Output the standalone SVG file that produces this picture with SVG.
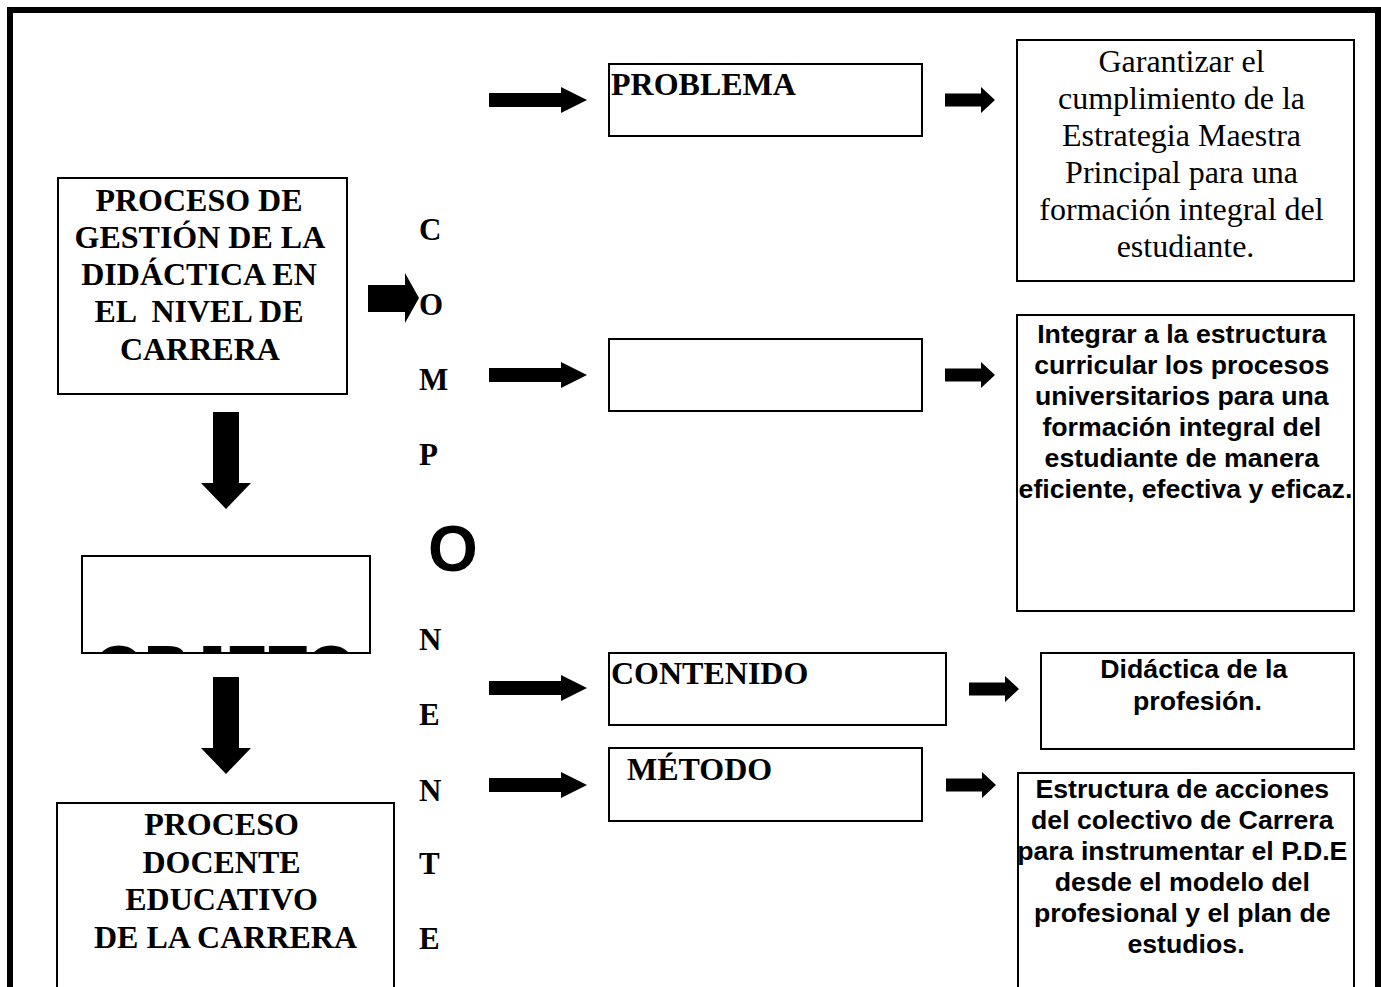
<svg xmlns="http://www.w3.org/2000/svg" width="1381" height="987" viewBox="0 0 1381 987">
<style>
.box{fill:#fff;stroke:#000;stroke-width:2}
.tb{font-family:"Liberation Serif","Times New Roman",serif;font-weight:bold;font-size:32px;fill:#000}
.tr{font-family:"Liberation Serif","Times New Roman",serif;font-size:32px;fill:#000}
.sb{font-family:"Liberation Sans",Arial,sans-serif;font-weight:bold;font-size:26.7px;fill:#000}
.big{font-family:"Liberation Sans",Arial,sans-serif;font-weight:bold;font-size:64px;fill:#000}
.let{font-family:"Liberation Serif","Times New Roman",serif;font-weight:bold;font-size:31px;fill:#000}
.arr{fill:#000;stroke:none}
</style>
<defs>
<path id="bigR" d="M0,-7 H72 V-13 L98,0 L72,13 V7 H0 Z"/>
<path id="smR" d="M0,-6.5 H36 V-13 L50,0 L36,13 V6.5 H0 Z"/>
<path id="down" d="M-13,0 V71 H-25 L0,97 L25,71 H13 V0 Z"/>
<clipPath id="objClip"><rect x="82" y="556" width="288" height="97"/></clipPath>
</defs>
<rect x="0" y="0" width="1381" height="987" fill="#fff"/>
<rect x="10" y="10" width="1368" height="1010" fill="none" stroke="#000" stroke-width="6"/>

<g id="connectors" class="arr">
<path d="M368,285 H405 V273 L419,298 L405,323 V312 H368 Z"/>
<use href="#down" x="226" y="412"/>
<use href="#down" x="226" y="677"/>
<use href="#bigR" x="489" y="100"/>
<use href="#bigR" x="489" y="375"/>
<use href="#bigR" x="489" y="688"/>
<use href="#bigR" x="489" y="785"/>
<use href="#smR" x="945" y="100"/>
<use href="#smR" x="945" y="375"/>
<use href="#smR" x="969" y="689"/>
<use href="#smR" x="946" y="785"/>
</g>

<g id="gestion">
<rect class="box" x="58" y="178" width="289" height="216"/>
<text class="tb" text-anchor="middle" style="white-space:pre">
<tspan x="203" y="211">PROCESO DE</tspan>
<tspan x="203" y="248">GESTIÓN DE LA</tspan>
<tspan x="203" y="285">DIDÁCTICA EN</tspan>
<tspan x="203" y="322">EL  NIVEL DE</tspan>
<tspan x="203" y="360">CARRERA</tspan>
</text>
</g>

<g id="objeto">
<rect class="box" x="82" y="556" width="288" height="97"/>
<text class="big" x="225" y="691" text-anchor="middle" clip-path="url(#objClip)">OBJETO</text>
<rect x="82" y="556" width="288" height="97" fill="none" stroke="#000" stroke-width="2"/>
</g>

<g id="proceso-docente">
<rect class="box" x="57" y="803" width="337" height="220"/>
<text class="tb" text-anchor="middle">
<tspan x="225.5" y="835">PROCESO</tspan>
<tspan x="225.5" y="873">DOCENTE</tspan>
<tspan x="225.5" y="910">EDUCATIVO</tspan>
<tspan x="225.5" y="948">DE LA CARRERA</tspan>
</text>
</g>

<g id="componente">
<text class="let" x="419" y="240">C</text>
<text class="let" x="419" y="315">O</text>
<text class="let" x="419" y="390">M</text>
<text class="let" x="419" y="465">P</text>
<text class="big" x="428" y="571">O</text>
<text class="let" x="419" y="650">N</text>
<text class="let" x="419" y="725">E</text>
<text class="let" x="419" y="801">N</text>
<text class="let" x="419" y="874">T</text>
<text class="let" x="419" y="949">E</text>
</g>

<g id="problema">
<rect class="box" x="609" y="64" width="313" height="72"/>
<text class="tb" x="611" y="95">PROBLEMA</text>
</g>

<g id="vacio">
<rect class="box" x="609" y="339" width="313" height="72"/>
</g>

<g id="contenido">
<rect class="box" x="609" y="653" width="337" height="72"/>
<text class="tb" x="611" y="684">CONTENIDO</text>
</g>

<g id="metodo">
<rect class="box" x="609" y="748" width="313" height="73"/>
<text class="tb" x="627" y="780">MÉTODO</text>
</g>

<g id="garantizar">
<rect class="box" x="1017" y="40" width="337" height="241"/>
<text class="tr" text-anchor="middle">
<tspan x="1185.5" y="72">Garantizar el</tspan>
<tspan x="1185.5" y="109">cumplimiento de la</tspan>
<tspan x="1185.5" y="146">Estrategia Maestra</tspan>
<tspan x="1185.5" y="183">Principal para una</tspan>
<tspan x="1185.5" y="220">formación integral del</tspan>
<tspan x="1185.5" y="257">estudiante.</tspan>
</text>
</g>

<g id="integrar">
<rect class="box" x="1017" y="315" width="337" height="296"/>
<text class="sb" text-anchor="middle">
<tspan x="1185.5" y="343">Integrar a la estructura</tspan>
<tspan x="1185.5" y="374">curricular los procesos</tspan>
<tspan x="1185.5" y="405">universitarios para una</tspan>
<tspan x="1185.5" y="436">formación integral del</tspan>
<tspan x="1185.5" y="467">estudiante de manera</tspan>
<tspan x="1185.5" y="498">eficiente, efectiva y eficaz.</tspan>
</text>
</g>

<g id="didactica">
<rect class="box" x="1041" y="653" width="313" height="96"/>
<text class="sb" text-anchor="middle">
<tspan x="1197.5" y="678">Didáctica de la</tspan>
<tspan x="1197.5" y="710">profesión.</tspan>
</text>
</g>

<g id="estructura">
<rect class="box" x="1018" y="773" width="336" height="250"/>
<text class="sb" text-anchor="middle">
<tspan x="1186" y="798">Estructura de acciones</tspan>
<tspan x="1186" y="829">del colectivo de Carrera</tspan>
<tspan x="1186" y="860">para instrumentar el P.D.E</tspan>
<tspan x="1186" y="891">desde el modelo del</tspan>
<tspan x="1186" y="922">profesional y el plan de</tspan>
<tspan x="1186" y="953">estudios.</tspan>
</text>
</g>
</svg>
